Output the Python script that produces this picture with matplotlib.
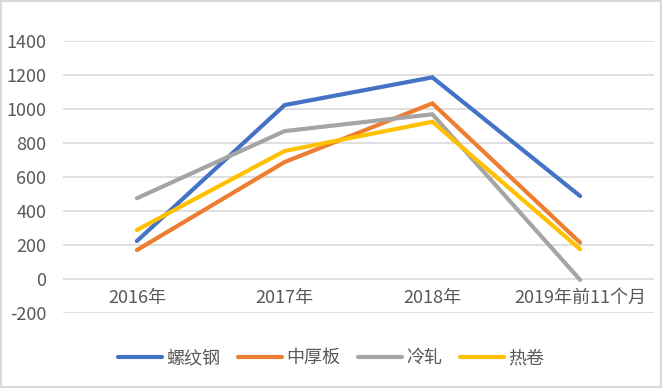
import matplotlib
matplotlib.use("Agg")
import matplotlib.pyplot as plt
from matplotlib.patches import Rectangle

plt.rcParams['font.family'] = ['Noto Sans CJK SC', 'DejaVu Sans']
plt.rcParams['font.weight'] = 'light'

categories = ["2016年", "2017年", "2018年", "2019年前11个月"]
series_names = ["螺纹钢", "中厚板", "冷轧", "热卷"]
rebar = [223, 1023, 1186, 488]
plate = [170, 688, 1033, 214]
cold = [475, 870, 969, -5]
hot = [288, 753, 925, 175]
colors = ["#4472C4", "#ED7D31", "#A5A5A5", "#FFC000"]
yticks = [-200, 0, 200, 400, 600, 800, 1000, 1200, 1400]

W, H = 662, 388
fig = plt.figure(figsize=(W / 100, H / 100), dpi=100)
ax = fig.add_axes([63 / W, 1 - 313 / H, (654 - 63) / W, (313 - 41) / H])

x = list(range(len(categories)))
for vals, name, c in zip([rebar, plate, cold, hot], series_names, colors):
    ax.plot(x, vals, color=c, lw=3.0, label=name, solid_capstyle='round',
            solid_joinstyle='miter')

ax.set_xlim(-0.5, len(categories) - 0.5)
ax.set_ylim(-200, 1400)
ax.set_yticks(yticks)
ax.set_yticklabels([str(v) for v in yticks])
ax.tick_params(axis='y', length=0, pad=12, labelsize=13, labelcolor="#595959")
ax.set_xticks([])
ax.grid(axis='y', color="#D9D9D9", lw=1.2)
ax.set_axisbelow(True)
for s in ax.spines.values():
    s.set_visible(False)

for xi, lab in zip(x, categories):
    ax.annotate(lab, (xi, 0), xytext=(0, -7), textcoords='offset points',
                ha='center', va='top', fontsize=13, color="#595959")

leg = fig.legend(loc='center', bbox_to_anchor=(0.5, 1 - 358 / H), ncol=4,
                 frameon=False, fontsize=13, handlelength=2.45,
                 columnspacing=1.0, handletextpad=0.2)
for t in leg.get_texts():
    t.set_color("#595959")

fig.patches.append(Rectangle((0.002, 0.003), 0.996, 0.994, transform=fig.transFigure,
                             fill=False, edgecolor="#D9D9D9", lw=1.5))

fig.savefig("out.png", dpi=100)
